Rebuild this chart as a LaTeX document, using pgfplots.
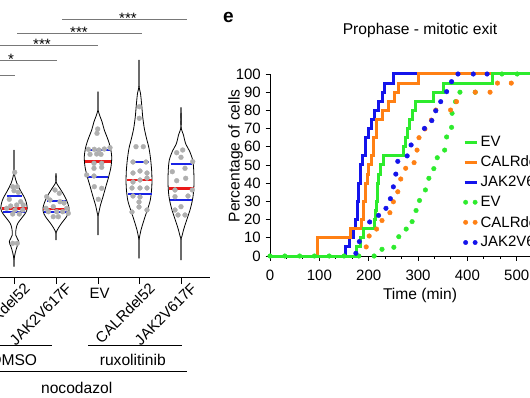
\documentclass[border=0pt]{standalone}
\usepackage{pgfplots}
\pgfplotsset{compat=1.18}
\usepackage{pgfplotstable}
\usepackage{fontspec}
\setmainfont{Liberation Sans}
\definecolor{cg}{RGB}{45,235,45}
\definecolor{co}{RGB}{255,128,20}
\definecolor{cb}{RGB}{20,20,235}
\definecolor{vred}{RGB}{235,25,25}
\definecolor{vblue}{RGB}{25,35,230}
\definecolor{dotc}{RGB}{175,175,175}
\definecolor{sig}{RGB}{120,120,120}
\newcommand\f{\fontsize{15}{18}\selectfont}
\newcommand\fl{\fontsize{15.6}{18}\selectfont}

% violin outlines: y, half width
\pgfplotstableread{
y w
127 0
107 0
100 1
94 2.8
87 6.2
78.7 10.8
73.7 12.5
68.7 13.2
64.3 11.7
58.7 7.5
53.7 3.8
48.7 2.2
42 1.7
35.3 4.7
30.3 3
24 1.2
17 0
10.3 0
}\vone
\pgfplotstableread{
y w
103.7 0
95.3 0
90.3 2.8
83.7 7
77 10.5
70.3 12.8
65.3 12.8
60.3 10.5
53.7 5.5
48.7 2.2
45.3 0.5
43.7 0
37 0
}\vtwo
\pgfplotstableread{
y w
185.3 0
167 0
162 1.5
155.3 4
147 6.3
138.7 9.5
130.3 12.2
120.3 13.7
110.3 13
100.3 10.7
90.3 7.8
80.3 5
72 2.5
63.7 0.7
60.3 0
42 0
}\vthree
\pgfplotstableread{
y w
217 0
192 0
183.7 1.5
172 2.7
160.3 3.7
148.7 5.3
138.7 7.5
128.7 10
117 11.7
103.7 12.8
90.3 12.8
77 11.3
67 8.3
57 5
47 2
38.7 0.3
35.3 0
18.7 0
}\vfour
\pgfplotstableread{
y w
169.7 0
150.3 0
142 2.5
133.7 4.5
125.3 8.8
117 11.7
107 12.7
93.7 13
80.3 12
68.7 9.5
58.7 6.3
48.7 3
40.3 0.8
37 0
17 0
}\vfive

\begin{document}
\begin{tikzpicture}[x=1pt,y=1pt]
\useasboundingbox (0,0) rectangle (530,397);
\clip (0,0) rectangle (530,397);

% ---------------- right panel ----------------
\begin{axis}[at={(270pt,141pt)}, anchor=south west,
  x=0.4934pt, y=1.82pt, xmin=0, xmax=570, ymin=0, ymax=100,
  axis x line=bottom, axis y line=left,
  axis line style={-, line width=0.9pt},
  xtick={0,100,...,500}, ytick={0,10,...,100}, minor x tick num=2,
  tick align=outside, major tick length=4.5pt, minor tick length=2.5pt,
  tick style={black, line width=0.9pt},
  /pgf/number format/assume math mode=true,
  ticklabel style={font=\f},
  xticklabel style={inner sep=0pt, yshift=-9pt},
  yticklabel style={inner sep=0pt, xshift=-4.5pt},
  clip=false,
  legend style={at={(axis cs:391,66.5)}, anchor=north west, draw=none, fill=none,
    inner sep=0pt, row sep=6pt, font=\f, nodes={inner sep=1pt, inner xsep=2.5pt}},
  legend cell align=left]
% dotted series (ruxolitinib)
\addplot[forget plot, only marks, mark=*, mark size=2.3pt, color=cg, mark options={draw=none, fill=cg}] coordinates {
(0,0) (30,0) (60,0) (90,0) (120,0) (150,0) (180,0) (211,0) (227,3.7) (251,4.8) (261,10.6) (276,14.8) (288,18.9) (296,25) (303,30.5) (315,36.3) (322,42.7) (332,48) (339,54) (354,58.2) (358,65.4) (368,70.7) (369,78.4) (376,84.8) (385,90) (416,90) (470,100) (501,100) (532,100)};
\addplot[forget plot, only marks, mark=*, mark size=2.3pt, color=co, mark options={draw=none, fill=co}] coordinates {
(195,5) (201,11) (216,14.8) (227,19.5) (243,23.8) (250,29.8) (259,35.3) (265,42.3) (275,48.2) (292,51.3) (298,58.2) (302,65) (314,69.8) (327,74.7) (336,80.2) (366,80.2) (378,84.8) (416,90) (446,90) (461,95) (489,95)};
\addplot[forget plot, only marks, mark=*, mark size=2.3pt, color=cb, mark options={draw=none, fill=cb}] coordinates {
(174,1.5) (181,7.9) (202,18.7) (220,22.3) (235,26.2) (244,31.5) (250,38) (255,45) (259,52) (278,55) (286,61) (313,70.1) (328,74.4) (336,79.8) (346,84.8) (358,90.3) (368,95.8) (381,100) (412,100) (440,100)};
% solid series (DMSO)
\addplot[forget plot, const plot, color=cb, line width=3pt] coordinates {
(0,0) (152,5) (162,10) (170,15) (174,20) (177,30) (180,40) (184,50) (188,55) (193,65) (200,70) (205,75) (212,80) (220,85) (227,90) (233,95) (250,100) (297,100)};
\addplot[forget plot, const plot, color=co, line width=3pt] coordinates {
(0,0) (97,10) (164,15) (185,20) (190,30) (194,40) (197,45) (200,50) (205,55) (210,65) (215,75) (227,80) (240,85) (253,90) (260,95) (301,100) (455,100)};
\addplot[forget plot, const plot, color=cg, line width=3pt] coordinates {
(0,0) (176,5) (183,10) (189,15) (211,20) (213,25) (215,30) (217,40) (220,45) (223,50) (230,55) (270,60) (274,65) (278,70) (283,75) (288,80) (294,85) (332,90) (351,95) (450,100) (570,100)};
% legend
\addlegendimage{legend image code/.code={\draw[cg, line width=3pt] (0pt,0pt) -- (12pt,0pt);}}
\addlegendentry{EV}
\addlegendimage{legend image code/.code={\draw[co, line width=3pt] (0pt,0pt) -- (12pt,0pt);}}
\addlegendentry{CALRdel52}
\addlegendimage{legend image code/.code={\draw[cb, line width=3pt] (0pt,0pt) -- (12pt,0pt);}}
\addlegendentry{JAK2V617F}
\addlegendimage{legend image code/.code={\fill[cg] (1pt,0pt) circle (2.2pt); \fill[cg] (10.5pt,0pt) circle (2.2pt);}}
\addlegendentry{EV}
\addlegendimage{legend image code/.code={\fill[co] (1pt,0pt) circle (2.2pt); \fill[co] (10.5pt,0pt) circle (2.2pt);}}
\addlegendentry{CALRdel52}
\addlegendimage{legend image code/.code={\fill[cb] (1pt,0pt) circle (2.2pt); \fill[cb] (10.5pt,0pt) circle (2.2pt);}}
\addlegendentry{JAK2V617F}
\end{axis}

% ---------------- left panel (violins) ----------------
\begin{axis}[at={(-57pt,120pt)}, anchor=south west,
  x=1pt, y=1pt, xmin=-57, xmax=210, ymin=0, ymax=277,
  axis x line=bottom, axis y line=none,
  axis line style={-, line width=0.9pt},
  xtick={-28,14,56,98,139,181},
  xticklabels={,CALRdel52,JAK2V617F,,CALRdel52,JAK2V617F},
  ytick=\empty,
  tick align=outside, major tick length=7pt,
  tick style={black, line width=0.9pt},
  xticklabel style={font=\f, rotate=45, anchor=north east, inner sep=0pt, xshift=8pt, yshift=-5pt},
  clip=false]
% outlines
\addplot[black, line width=0.8pt, smooth, tension=0.5] table[x expr=14+\thisrow{w}, y=y]{\vone};
\addplot[black, line width=0.8pt, smooth, tension=0.5] table[x expr=14-\thisrow{w}, y=y]{\vone};
\addplot[black, line width=0.8pt, smooth, tension=0.5] table[x expr=56+\thisrow{w}, y=y]{\vtwo};
\addplot[black, line width=0.8pt, smooth, tension=0.5] table[x expr=56-\thisrow{w}, y=y]{\vtwo};
\addplot[black, line width=0.8pt, smooth, tension=0.5] table[x expr=98+\thisrow{w}, y=y]{\vthree};
\addplot[black, line width=0.8pt, smooth, tension=0.5] table[x expr=98-\thisrow{w}, y=y]{\vthree};
\addplot[black, line width=0.8pt, smooth, tension=0.5] table[x expr=139+\thisrow{w}, y=y]{\vfour};
\addplot[black, line width=0.8pt, smooth, tension=0.5] table[x expr=139-\thisrow{w}, y=y]{\vfour};
\addplot[black, line width=0.8pt, smooth, tension=0.5] table[x expr=181+\thisrow{w}, y=y]{\vfive};
\addplot[black, line width=0.8pt, smooth, tension=0.5] table[x expr=181-\thisrow{w}, y=y]{\vfive};
% individual cells
\addplot[only marks, mark=*, mark size=2.4pt, color=dotc, mark options={draw=none, fill=dotc}] coordinates {
(14.7,104.7) (12.7,90.3) (17.3,90.3) (14,86.3) (18.3,84.7) (9.3,77.7) (20.7,75.3) (23.3,72) (16.7,72) (10.7,71) (6.7,68.7) (15,67) (22.7,67) (12.7,63) (19.3,63) (12.7,33.7) (17.3,33.7)
(55,87) (59.3,83.7) (46.7,80.3) (60,75.3) (53.3,70.3) (46,68.7) (66.7,68.7) (48.3,65.3) (56.7,65.3) (62.7,65.3) (68.3,63.7) (53.3,60.3) (58.3,60.3) (64,74) (50,77)
(97.7,148) (97,143.7) (88.3,127.7) (94.3,127.7) (99,127) (104.3,128) (110,129.3) (90,122.7) (96.7,123) (101,122.7) (94,113.7) (101.7,113.7) (94,108.7) (101.7,109.7) (86.7,102) (94,101) (94.3,90.3) (101.7,88.7) (98.3,77.7)
(139.3,170.3) (139.3,158.7) (136,130.3) (143.3,130.3) (133,115) (146,115) (133,104) (140,106) (147,104) (133,95) (140,97) (147,99) (132,89) (140,89) (147,89) (133,81) (140,80) (139,75) (139,70) (132,65) (147,67)
(176.7,124.3) (182.7,127) (181,119.7) (192.7,115.3) (172.3,105.3) (185,108.7) (176.7,96.3) (185.7,98.7) (175,87) (192.3,87) (175,80.3) (181,70.3) (175,67) (178,62) (185,62) (188,81)};
% quartiles and medians
\addplot[vblue, line width=1.8pt] coordinates {(6.7,81) (21.7,81)};
\addplot[vred, line width=2.8pt] coordinates {(1.7,68.7) (27.3,68.7)};
\addplot[vblue, line width=1.8pt] coordinates {(3.3,65.3) (25,65.3)};
\addplot[vblue, line width=1.8pt] coordinates {(46.7,76.3) (66,76.3)};
\addplot[vred, line width=2.8pt] coordinates {(43.3,68) (69,68)};
\addplot[vblue, line width=1.8pt] coordinates {(44,65) (68.3,65)};
\addplot[vblue, line width=1.8pt] coordinates {(86.7,127) (110,127)};
\addplot[vred, line width=2.8pt] coordinates {(85,115.3) (111,115.3)};
\addplot[vblue, line width=1.8pt] coordinates {(88.3,100.3) (107.7,100.3)};
\addplot[vblue, line width=1.8pt] coordinates {(130.7,114.7) (149,114.7)};
\addplot[vred, line width=2.8pt] coordinates {(126.7,97) (152.3,97)};
\addplot[vblue, line width=1.8pt] coordinates {(128.3,83) (151.7,83)};
\addplot[vblue, line width=1.8pt] coordinates {(170.7,113) (192.3,113)};
\addplot[vred, line width=2.8pt] coordinates {(169,88.7) (194.3,88.7)};
\addplot[vblue, line width=1.8pt] coordinates {(170,77) (192.3,77)};
\end{axis}

% significance bars
\draw[sig, line width=0.9pt] (62,378) -- (187,378);
\draw[sig, line width=0.9pt] (17,364) -- (142,364);
\draw[sig, line width=0.9pt] (-20,352) -- (98,352);
\draw[sig, line width=0.9pt] (-20,337) -- (57,337);
\draw[sig, line width=0.9pt] (-20,322) -- (15,322);
\node[font=\f, anchor=base, inner sep=0pt] at (128,373.3) {***};
\node[font=\f, anchor=base, inner sep=0pt] at (79,359.3) {***};
\node[font=\f, anchor=base, inner sep=0pt] at (42,347.3) {***};
\node[font=\f, anchor=base, inner sep=0pt] at (11,332.3) {*};
% group labels
\node[font=\f, anchor=base, inner sep=0pt] at (99.7,98.3) {EV};
\draw[line width=0.9pt] (-20,52) -- (52,52);
\draw[line width=0.9pt] (88,52) -- (182,52);
\draw[line width=0.9pt] (-20,25.3) -- (186.7,25.3);
\node[font=\fl, anchor=base, inner sep=0pt] at (13.7,32) {DMSO};
\node[font=\fl, anchor=base, inner sep=0pt] at (132.8,32) {ruxolitinib};
\node[font=\fl, anchor=base, inner sep=0pt] at (76.7,3.7) {nocodazol};
% right panel texts
\node[font=\bfseries\fontsize{19}{19}\selectfont, anchor=base, inner sep=0pt] at (228.5,374) {e};
\node[font=\fl, anchor=base, inner sep=0pt] at (420,362.7) {Prophase - mitotic exit};
\node[font=\fl, anchor=base, inner sep=0pt] at (420,97.3) {Time (min)};
\node[font=\fl, rotate=90, anchor=base, inner sep=0pt] at (239.7,241) {Percentage of cells};
\end{tikzpicture}
\end{document}
